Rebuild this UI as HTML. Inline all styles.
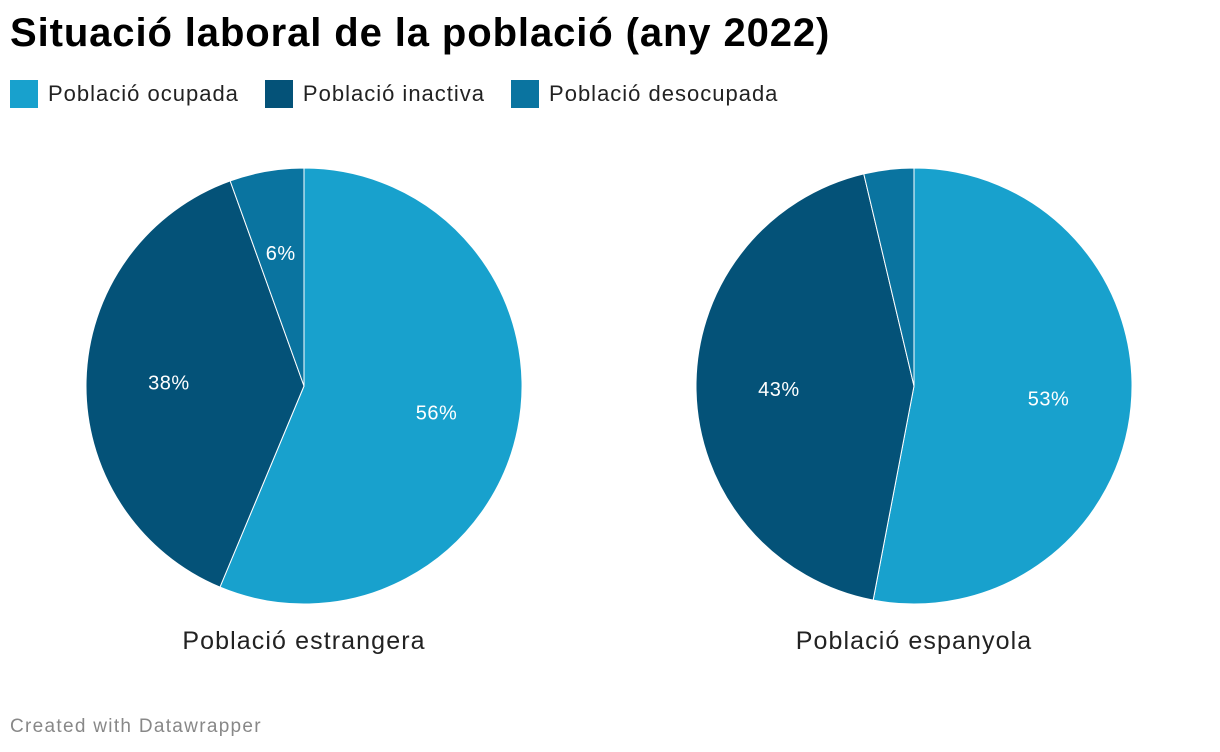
<!DOCTYPE html>
<html><head><meta charset="utf-8"><style>
body{margin:0;width:1220px;height:752px;background:#fff;font-family:"Liberation Sans",sans-serif;overflow:hidden;position:relative}
.t{position:absolute;left:10px;top:11px;font-size:40px;font-weight:bold;color:#000;letter-spacing:0.9px}
.lg{position:absolute;top:80px;left:10px;display:flex;font-size:22px;color:#222;letter-spacing:1px}
.li{display:flex;align-items:center;margin-right:26px}
.sw{width:28px;height:28px;margin-right:10px}
.ft{position:absolute;left:10px;top:716px;font-size:19px;color:#888;letter-spacing:1.3px}
</style></head><body>
<div class="t">Situació laboral de la població (any 2022)</div>
<div class="lg">
<div class="li"><div class="sw" style="background:#18a1cd"></div>Població ocupada</div>
<div class="li"><div class="sw" style="background:#045278"></div>Població inactiva</div>
<div class="li"><div class="sw" style="background:#0a74a0"></div>Població desocupada</div>
</div>
<svg id="c" width="1220" height="752" style="position:absolute;left:0;top:0"></svg>
<div class="ft">Created with Datawrapper</div>
<script>
const groups = ["Població estrangera","Població espanyola"];
const ocupada = [56.3, 53.0];
const inactiva = [38.2, 43.3];
const desocupada = [5.5, 3.7];
const labels = [["56%","38%","6%"],["53%","43%",""]];
const colors = ["#18a1cd","#045278","#0a74a0"];
const svg = document.getElementById('c');
const NS = "http://www.w3.org/2000/svg";
const R = 218, cy = 386, cxs = [304, 914];
function pt(cx, a, r){ return [cx + r*Math.sin(a), cy - r*Math.cos(a)]; }
groups.forEach((g,i)=>{
  const vals=[ocupada[i],inactiva[i],desocupada[i]];
  const tot=vals.reduce((a,b)=>a+b,0);
  let a0=0; const cx=cxs[i];
  vals.forEach((v,j)=>{
    const a1=a0+v/tot*2*Math.PI;
    const p0=pt(cx,a0,R), p1=pt(cx,a1,R);
    const p=document.createElementNS(NS,'path');
    p.setAttribute('d',`M${cx},${cy}L${p0[0]},${p0[1]}A${R},${R} 0 ${a1-a0>Math.PI?1:0} 1 ${p1[0]},${p1[1]}Z`);
    p.setAttribute('fill',colors[j]);p.setAttribute('stroke','#fff');p.setAttribute('stroke-width','1');
    
    
    svg.appendChild(p);
    if(labels[i][j]){
      const m=pt(cx,(a0+a1)/2,R*0.62);
      const t=document.createElementNS(NS,'text');
      t.setAttribute('x',m[0]);t.setAttribute('y',m[1]+7);t.setAttribute('text-anchor','middle');
      t.setAttribute('fill','#fff');t.setAttribute('font-size','20');t.setAttribute('letter-spacing','0.5');t.textContent=labels[i][j];
      
      
      svg.appendChild(t);
    }
    a0=a1;
  });
  const t=document.createElementNS(NS,'text');
  t.setAttribute('x',cx);t.setAttribute('y',649);t.setAttribute('text-anchor','middle');
  t.setAttribute('fill','#222');t.setAttribute('font-size','25');t.setAttribute('letter-spacing','1.1');t.textContent=g;
  
  
  svg.appendChild(t);
});
</script>
</body></html>
